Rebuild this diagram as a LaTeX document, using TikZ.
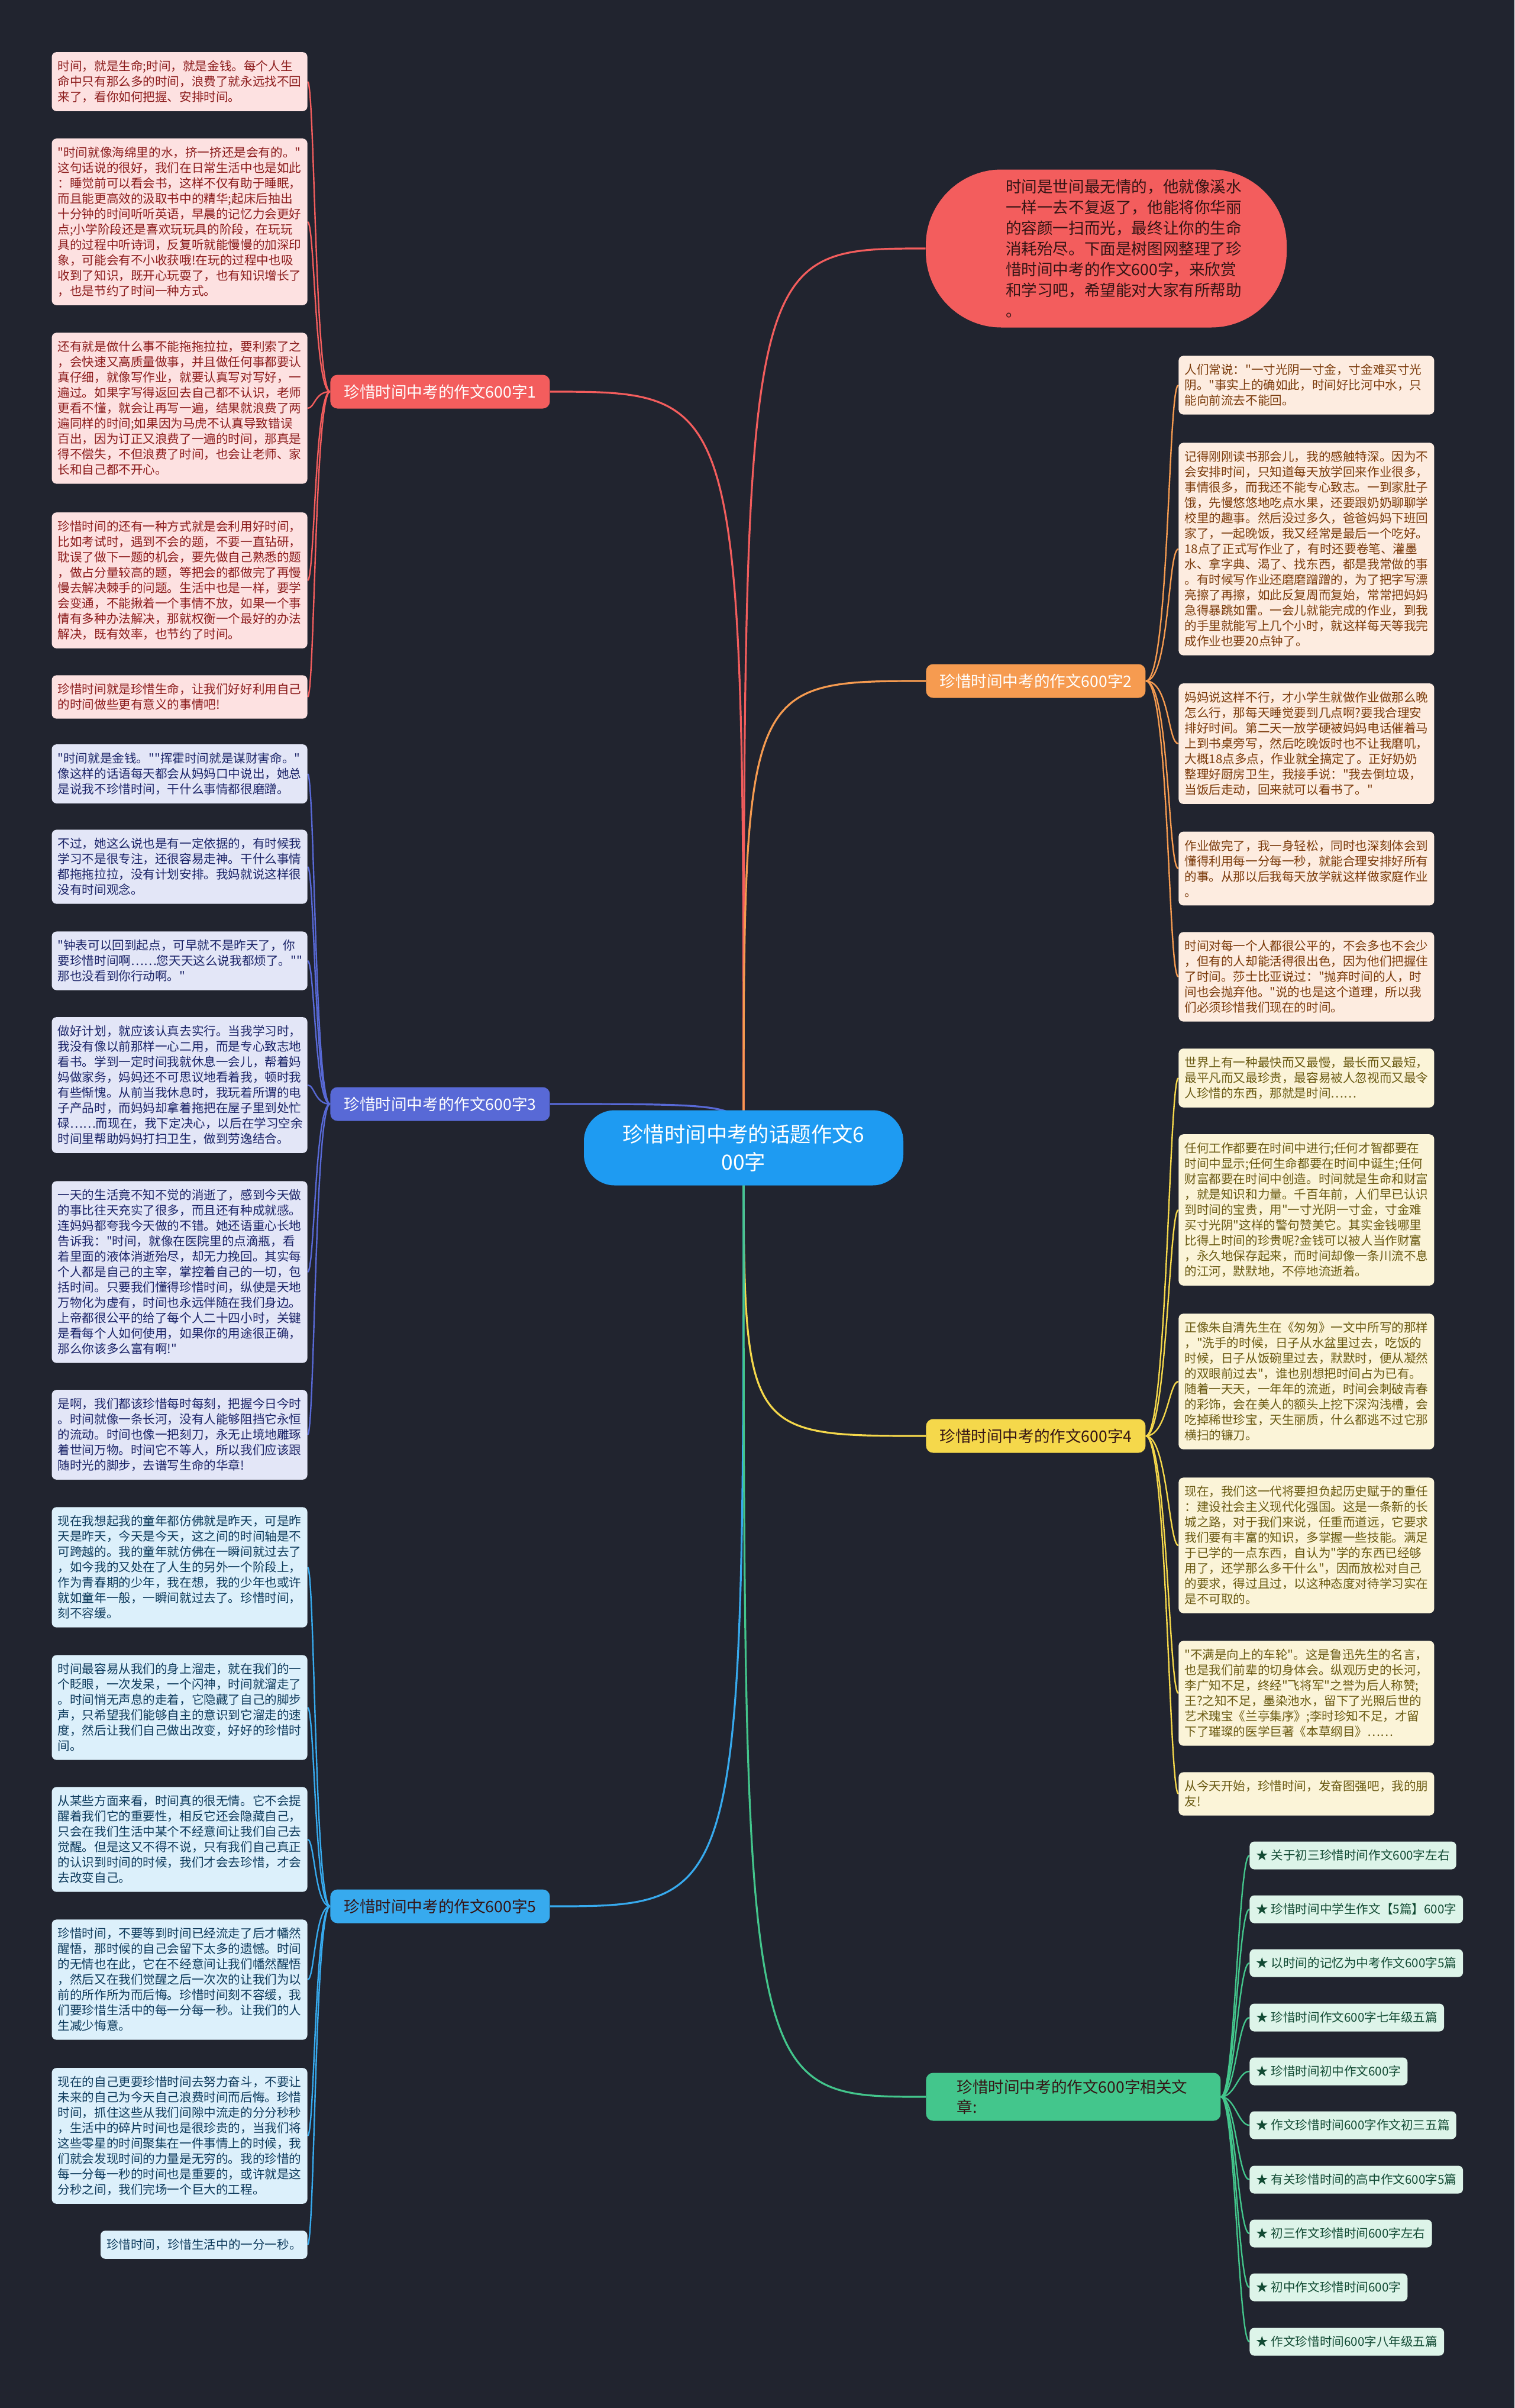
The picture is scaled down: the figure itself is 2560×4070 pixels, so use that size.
\documentclass[tikz,border=0pt]{standalone}
\usepackage{fontspec}
\newfontfamily\zh{Noto Sans CJK SC}
\definecolor{nen}{RGB}{33,36,47}
\definecolor{cBlue}{RGB}{30,155,242}
\definecolor{cRed}{RGB}{243,93,93}
\definecolor{eText}{RGB}{52,20,20}
\definecolor{rFill}{RGB}{253,225,225}
\definecolor{rText}{RGB}{140,28,28}
\definecolor{oLine}{RGB}{246,155,80}
\definecolor{oFill}{RGB}{253,236,224}
\definecolor{oText}{RGB}{123,59,11}
\definecolor{bLine}{RGB}{88,105,214}
\definecolor{bFill}{RGB}{227,230,247}
\definecolor{bText}{RGB}{27,36,104}
\definecolor{yLine}{RGB}{245,216,75}
\definecolor{yFill}{RGB}{251,244,216}
\definecolor{yText}{RGB}{106,90,18}
\definecolor{sLine}{RGB}{55,170,238}
\definecolor{sFill}{RGB}{220,240,251}
\definecolor{sText}{RGB}{13,58,92}
\definecolor{gLine}{RGB}{67,198,140}
\definecolor{gFill}{RGB}{221,244,233}
\definecolor{gText}{RGB}{17,74,51}
\pgfdeclarelayer{nenlop}
\pgfdeclarelayer{duong}
\pgfsetlayers{nenlop,duong,main}
\begin{document}
\begin{tikzpicture}[x=0.5pt,y=-0.5pt,line join=round,line cap=round,
	box/.style={rounded corners=4pt,text width=206pt,align=left,inner xsep=5pt,inner ysep=7pt,font=\zh\fontsize{10.3}{13}\selectfont},
	rbox/.style={box,fill=rFill,text=rText,anchor=east},
	bbox/.style={box,fill=bFill,text=bText,anchor=east},
	sbox/.style={box,fill=sFill,text=sText,anchor=east},
	obox/.style={box,fill=oFill,text=oText,anchor=west},
	ybox/.style={box,fill=yFill,text=yText,anchor=west},
	link/.style={rounded corners=4pt,inner xsep=5.5pt,minimum height=23.5pt,font=\zh\fontsize{10.3}{13}\selectfont,fill=gFill,text=gText,anchor=west},
	lab/.style={rounded corners=6pt,inner xsep=11.5pt,minimum height=28.5pt,font=\zh\fontsize{13.3}{17}\selectfont,anchor=west},
	br/.style={line width=1.6pt},
	lk/.style={line width=1.2pt}]
	\useasboundingbox (0,0) rectangle (2560,4070);
	\begin{pgfonlayer}{nenlop}
		\fill[nen] (0,0) rectangle (2560,4070);
	\end{pgfonlayer}
	%Nút trung tâm
	\node[fill=cBlue,text=white,rounded corners=26pt,minimum width=270pt,minimum height=63.5pt,align=center,font=\zh\fontsize{17.7}{23.5}\selectfont] (c) at (1257,1940) {珍惜时间中考的话题作文6\\00字};
	\node[fill=cRed,text=eText,rounded corners=64pt,minimum width=305pt,minimum height=133.5pt,font=\zh\fontsize{13.3}{17.5}\selectfont] (e) at (1870,420) {\hspace*{30pt}\parbox{200pt}{\raggedright 时间是世间最无情的，他就像溪水\\一样一去不复返了，他能将你华丽\\的容颜一扫而光，最终让你的生命\\消耗殆尽。下面是树图网整理了珍\\惜时间中考的作文600字，来欣赏\\和学习吧，希望能对大家有所帮助\\。}};
	%Các nhánh
	\node[lab,fill=cRed,text=white] (b1) at (558,662) {珍惜时间中考的作文600字1};
	\node[lab,fill=oLine,text=white] (b2) at (1565,1151) {珍惜时间中考的作文600字2};
	\node[lab,fill=bLine,text=white] (b3) at (558,1866) {珍惜时间中考的作文600字3};
	\node[lab,fill=yLine,text=eText] (b4) at (1565,2427) {珍惜时间中考的作文600字4};
	\node[lab,fill=sLine,text=eText] (b5) at (558,3222) {珍惜时间中考的作文600字5};
	\node[lab,fill=gLine,text=eText,text width=197pt,align=left,inner xsep=26pt,inner ysep=5.6pt] (b6) at (1565,3544) {珍惜时间中考的作文600字相关文\\章:};
	%Nhánh 1
	\node[rbox] (l1a) at (520,138) {时间，就是生命;时间，就是金钱。每个人生\\命中只有那么多的时间，浪费了就永远找不回\\来了，看你如何把握、安排时间。};
	\node[rbox] (l1b) at (520,375) {"时间就像海绵里的水，挤一挤还是会有的。"\\这句话说的很好，我们在日常生活中也是如此\\：睡觉前可以看会书，这样不仅有助于睡眠，\\而且能更高效的汲取书中的精华;起床后抽出\\十分钟的时间听听英语，早晨的记忆力会更好\\点;小学阶段还是喜欢玩玩具的阶段，在玩玩\\具的过程中听诗词，反复听就能慢慢的加深印\\象，可能会有不小收获哦!在玩的过程中也吸\\收到了知识，既开心玩耍了，也有知识增长了\\，也是节约了时间一种方式。};
	\node[rbox] (l1c) at (520,690) {还有就是做什么事不能拖拖拉拉，要利索了之\\，会快速又高质量做事，并且做任何事都要认\\真仔细，就像写作业，就要认真写对写好，一\\遍过。如果字写得返回去自己都不认识，老师\\更看不懂，就会让再写一遍，结果就浪费了两\\遍同样的时间;如果因为马虎不认真导致错误\\百出，因为订正又浪费了一遍的时间，那真是\\得不偿失，不但浪费了时间，也会让老师、家\\长和自己都不开心。};
	\node[rbox] (l1d) at (520,981) {珍惜时间的还有一种方式就是会利用好时间，\\比如考试时，遇到不会的题，不要一直钻研，\\耽误了做下一题的机会，要先做自己熟悉的题\\，做占分量较高的题，等把会的都做完了再慢\\慢去解决棘手的问题。生活中也是一样，要学\\会变通，不能揪着一个事情不放，如果一个事\\情有多种办法解决，那就权衡一个最好的办法\\解决，既有效率，也节约了时间。};
	\node[rbox] (l1e) at (520,1178) {珍惜时间就是珍惜生命，让我们好好利用自己\\的时间做些更有意义的事情吧!};
	%Nhánh 3
	\node[bbox] (l3a) at (520,1308) {"时间就是金钱。""挥霍时间就是谋财害命。"\\像这样的话语每天都会从妈妈口中说出，她总\\是说我不珍惜时间，干什么事情都很磨蹭。};
	\node[bbox] (l3b) at (520,1465) {不过，她这么说也是有一定依据的，有时候我\\学习不是很专注，还很容易走神。干什么事情\\都拖拖拉拉，没有计划安排。我妈就说这样很\\没有时间观念。};
	\node[bbox] (l3c) at (520,1624) {"钟表可以回到起点，可早就不是昨天了，你\\要珍惜时间啊……您天天这么说我都烦了。""\\那也没看到你行动啊。"};
	\node[bbox] (l3d) at (520,1834) {做好计划，就应该认真去实行。当我学习时，\\我没有像以前那样一心二用，而是专心致志地\\看书。学到一定时间我就休息一会儿，帮着妈\\妈做家务，妈妈还不可思议地看着我，顿时我\\有些惭愧。从前当我休息时，我玩着所谓的电\\子产品时，而妈妈却拿着拖把在屋子里到处忙\\碌……而现在，我下定决心，以后在学习空余\\时间里帮助妈妈打扫卫生，做到劳逸结合。};
	\node[bbox] (l3e) at (520,2150) {一天的生活竟不知不觉的消逝了，感到今天做\\的事比往天充实了很多，而且还有种成就感。\\连妈妈都夸我今天做的不错。她还语重心长地\\告诉我："时间，就像在医院里的点滴瓶，看\\着里面的液体消逝殆尽，却无力挽回。其实每\\个人都是自己的主宰，掌控着自己的一切，包\\括时间。只要我们懂得珍惜时间，纵使是天地\\万物化为虚有，时间也永远伴随在我们身边。\\上帝都很公平的给了每个人二十四小时，关键\\是看每个人如何使用，如果你的用途很正确，\\那么你该多么富有啊!"};
	\node[bbox] (l3f) at (520,2425) {是啊，我们都该珍惜每时每刻，把握今日今时\\。时间就像一条长河，没有人能够阻挡它永恒\\的流动。时间也像一把刻刀，永无止境地雕琢\\着世间万物。时间它不等人，所以我们应该跟\\随时光的脚步，去谱写生命的华章!};
	%Nhánh 5
	\node[sbox] (l5a) at (520,2649) {现在我想起我的童年都仿佛就是昨天，可是昨\\天是昨天，今天是今天，这之间的时间轴是不\\可跨越的。我的童年就仿佛在一瞬间就过去了\\，如今我的又处在了人生的另外一个阶段上，\\作为青春期的少年，我在想，我的少年也或许\\就如童年一般，一瞬间就过去了。珍惜时间，\\刻不容缓。};
	\node[sbox] (l5b) at (520,2886) {时间最容易从我们的身上溜走，就在我们的一\\个眨眼，一次发呆，一个闪神，时间就溜走了\\。时间悄无声息的走着，它隐藏了自己的脚步\\声，只希望我们能够自主的意识到它溜走的速\\度，然后让我们自己做出改变，好好的珍惜时\\间。};
	\node[sbox] (l5c) at (520,3109) {从某些方面来看，时间真的很无情。它不会提\\醒着我们它的重要性，相反它还会隐藏自己，\\只会在我们生活中某个不经意间让我们自己去\\觉醒。但是这又不得不说，只有我们自己真正\\的认识到时间的时候，我们才会去珍惜，才会\\去改变自己。};
	\node[sbox] (l5d) at (520,3346) {珍惜时间，不要等到时间已经流走了后才幡然\\醒悟，那时候的自己会留下太多的遗憾。时间\\的无情也在此，它在不经意间让我们幡然醒悟\\，然后又在我们觉醒之后一次次的让我们为以\\前的所作所为而后悔。珍惜时间刻不容缓，我\\们要珍惜生活中的每一分每一秒。让我们的人\\生减少悔意。};
	\node[sbox] (l5e) at (520,3610) {现在的自己更要珍惜时间去努力奋斗，不要让\\未来的自己为今天自己浪费时间而后悔。珍惜\\时间，抓住这些从我们间隙中流走的分分秒秒\\，生活中的碎片时间也是很珍贵的，当我们将\\这些零星的时间聚集在一件事情上的时候，我\\们就会发现时间的力量是无穷的。我的珍惜的\\每一分每一秒的时间也是重要的，或许就是这\\分秒之间，我们完场一个巨大的工程。};
	\node[sbox,text width=] (l5f) at (520,3794) {珍惜时间，珍惜生活中的一分一秒。};
	%Nhánh 2
	\node[obox] (r2a) at (1992,651) {人们常说："一寸光阴一寸金，寸金难买寸光\\阴。"事实上的确如此，时间好比河中水，只\\能向前流去不能回。};
	\node[obox] (r2b) at (1992,928) {记得刚刚读书那会儿，我的感触特深。因为不\\会安排时间，只知道每天放学回来作业很多，\\事情很多，而我还不能专心致志。一到家肚子\\饿，先慢悠悠地吃点水果，还要跟奶奶聊聊学\\校里的趣事。然后没过多久，爸爸妈妈下班回\\家了，一起晚饭，我又经常是最后一个吃好。\\18点了正式写作业了，有时还要卷笔、灌墨\\水、拿字典、渴了、找东西，都是我常做的事\\。有时候写作业还磨磨蹭蹭的，为了把字写漂\\亮擦了再擦，如此反复周而复始，常常把妈妈\\急得暴跳如雷。一会儿就能完成的作业，到我\\的手里就能写上几个小时，就这样每天等我完\\成作业也要20点钟了。};
	\node[obox] (r2c) at (1992,1257) {妈妈说这样不行，才小学生就做作业做那么晚\\怎么行，那每天睡觉要到几点啊?要我合理安\\排好时间。第二天一放学硬被妈妈电话催着马\\上到书桌旁写，然后吃晚饭时也不让我磨叽，\\大概18点多点，作业就全搞定了。正好奶奶\\整理好厨房卫生，我接手说："我去倒垃圾，\\当饭后走动，回来就可以看书了。"};
	\node[obox] (r2d) at (1992,1468) {作业做完了，我一身轻松，同时也深刻体会到\\懂得利用每一分每一秒，就能合理安排好所有\\的事。从那以后我每天放学就这样做家庭作业\\。};
	\node[obox] (r2e) at (1992,1651) {时间对每一个人都很公平的，不会多也不会少\\，但有的人却能活得很出色，因为他们把握住\\了时间。莎士比亚说过："抛弃时间的人，时\\间也会抛弃他。"说的也是这个道理，所以我\\们必须珍惜我们现在的时间。};
	%Nhánh 4
	\node[ybox] (r4a) at (1992,1822) {世界上有一种最快而又最慢，最长而又最短，\\最平凡而又最珍贵，最容易被人忽视而又最令\\人珍惜的东西，那就是时间……};
	\node[ybox] (r4b) at (1992,2045) {任何工作都要在时间中进行;任何才智都要在\\时间中显示;任何生命都要在时间中诞生;任何\\财富都要在时间中创造。时间就是生命和财富\\，就是知识和力量。千百年前，人们早已认识\\到时间的宝贵，用"一寸光阴一寸金，寸金难\\买寸光阴"这样的警句赞美它。其实金钱哪里\\比得上时间的珍贵呢?金钱可以被人当作财富\\，永久地保存起来，而时间却像一条川流不息\\的江河，默默地，不停地流逝着。};
	\node[ybox] (r4c) at (1992,2335) {正像朱自清先生在《匆匆》一文中所写的那样\\，"洗手的时候，日子从水盆里过去，吃饭的\\时候，日子从饭碗里过去，默默时，便从凝然\\的双眼前过去"，谁也别想把时间占为已有。\\随着一天天，一年年的流逝，时间会刺破青春\\的彩饰，会在美人的额头上挖下深沟浅槽，会\\吃掉稀世珍宝，天生丽质，什么都逃不过它那\\横扫的镰刀。};
	\node[ybox] (r4d) at (1992,2612) {现在，我们这一代将要担负起历史赋于的重任\\：建设社会主义现代化强国。这是一条新的长\\城之路，对于我们来说，任重而道远，它要求\\我们要有丰富的知识，多掌握一些技能。满足\\于已学的一点东西，自认为"学的东西已经够\\用了，还学那么多干什么"，因而放松对自己\\的要求，得过且过，以这种态度对待学习实在\\是不可取的。};
	\node[ybox] (r4e) at (1992,2862) {"不满是向上的车轮"。这是鲁迅先生的名言，\\也是我们前辈的切身体会。纵观历史的长河，\\李广知不足，终经"飞将军"之誉为后人称赞;\\王?之知不足，墨染池水，留下了光照后世的\\艺术瑰宝《兰亭集序》;李时珍知不足，才留\\下了璀璨的医学巨著《本草纲目》……};
	\node[ybox] (r4f) at (1992,3032) {从今天开始，珍惜时间，发奋图强吧，我的朋\\友!};
	%Bài viết liên quan
	\node[link] (g1) at (2112,3136) {★ 关于初三珍惜时间作文600字左右};
	\node[link] (g2) at (2112,3227) {★ 珍惜时间中学生作文【5篇】600字};
	\node[link] (g3) at (2112,3318) {★ 以时间的记忆为中考作文600字5篇};
	\node[link] (g4) at (2112,3410) {★ 珍惜时间作文600字七年级五篇};
	\node[link] (g5) at (2112,3501) {★ 珍惜时间初中作文600字};
	\node[link] (g6) at (2112,3592) {★ 作文珍惜时间600字作文初三五篇};
	\node[link] (g7) at (2112,3684) {★ 有关珍惜时间的高中作文600字5篇};
	\node[link] (g8) at (2112,3775) {★ 初三作文珍惜时间600字左右};
	\node[link] (g9) at (2112,3866) {★ 初中作文珍惜时间600字};
	\node[link] (g10) at (2112,3958) {★ 作文珍惜时间600字八年级五篇};
	\begin{pgfonlayer}{duong}
		%Đường từ tâm
		\draw[br,cRed] (c.center) .. controls (c.center |- e.west) and (c.center |- e.west) .. (e.west);
		\draw[br,cRed] (c.center) .. controls (c.center |- b1.east) and (c.center |- b1.east) .. (b1.east);
		\draw[br,oLine] (c.center) .. controls (c.center |- b2.west) and (c.center |- b2.west) .. (b2.west);
		\draw[br,bLine] (c.center) .. controls (c.center |- b3.east) and (c.center |- b3.east) .. (b3.east);
		\draw[br,yLine] (c.center) .. controls (c.center |- b4.west) and (c.center |- b4.west) .. (b4.west);
		\draw[br,sLine] (c.center) .. controls (c.center |- b5.east) and (c.center |- b5.east) .. (b5.east);
		\draw[br,gLine] (c.center) .. controls (c.center |- b6.west) and (c.center |- b6.west) .. (b6.west);
		%Nhánh 1
		\draw[lk,cRed] (b1.west) .. controls +(-26,0) and +(12,0) .. (l1a.east);
		\draw[lk,cRed] (b1.west) .. controls +(-26,0) and +(12,0) .. (l1b.east);
		\draw[lk,cRed] (b1.west) .. controls +(-26,0) and +(12,0) .. (l1c.east);
		\draw[lk,cRed] (b1.west) .. controls +(-26,0) and +(12,0) .. (l1d.east);
		\draw[lk,cRed] (b1.west) .. controls +(-26,0) and +(12,0) .. (l1e.east);
		%Nhánh 3
		\draw[lk,bLine] (b3.west) .. controls +(-26,0) and +(12,0) .. (l3a.east);
		\draw[lk,bLine] (b3.west) .. controls +(-26,0) and +(12,0) .. (l3b.east);
		\draw[lk,bLine] (b3.west) .. controls +(-26,0) and +(12,0) .. (l3c.east);
		\draw[lk,bLine] (b3.west) .. controls +(-26,0) and +(12,0) .. (l3d.east);
		\draw[lk,bLine] (b3.west) .. controls +(-26,0) and +(12,0) .. (l3e.east);
		\draw[lk,bLine] (b3.west) .. controls +(-26,0) and +(12,0) .. (l3f.east);
		%Nhánh 5
		\draw[lk,sLine] (b5.west) .. controls +(-26,0) and +(12,0) .. (l5a.east);
		\draw[lk,sLine] (b5.west) .. controls +(-26,0) and +(12,0) .. (l5b.east);
		\draw[lk,sLine] (b5.west) .. controls +(-26,0) and +(12,0) .. (l5c.east);
		\draw[lk,sLine] (b5.west) .. controls +(-26,0) and +(12,0) .. (l5d.east);
		\draw[lk,sLine] (b5.west) .. controls +(-26,0) and +(12,0) .. (l5e.east);
		\draw[lk,sLine] (b5.west) .. controls +(-26,0) and +(12,0) .. (l5f.east);
		%Nhánh 2
		\draw[lk,oLine] (b2.east) .. controls +(40,0) and +(-18,0) .. (r2a.west);
		\draw[lk,oLine] (b2.east) .. controls +(40,0) and +(-18,0) .. (r2b.west);
		\draw[lk,oLine] (b2.east) .. controls +(40,0) and +(-18,0) .. (r2c.west);
		\draw[lk,oLine] (b2.east) .. controls +(40,0) and +(-18,0) .. (r2d.west);
		\draw[lk,oLine] (b2.east) .. controls +(40,0) and +(-18,0) .. (r2e.west);
		%Nhánh 4
		\draw[lk,yLine] (b4.east) .. controls +(36,0) and +(-16,0) .. (r4a.west);
		\draw[lk,yLine] (b4.east) .. controls +(36,0) and +(-16,0) .. (r4b.west);
		\draw[lk,yLine] (b4.east) .. controls +(36,0) and +(-16,0) .. (r4c.west);
		\draw[lk,yLine] (b4.east) .. controls +(36,0) and +(-16,0) .. (r4d.west);
		\draw[lk,yLine] (b4.east) .. controls +(36,0) and +(-16,0) .. (r4e.west);
		\draw[lk,yLine] (b4.east) .. controls +(36,0) and +(-16,0) .. (r4f.west);
		%Liên quan
		\draw[lk,gLine] (b6.east) .. controls +(24,0) and +(-19,0) .. (g1.west);
		\draw[lk,gLine] (b6.east) .. controls +(24,0) and +(-19,0) .. (g2.west);
		\draw[lk,gLine] (b6.east) .. controls +(24,0) and +(-19,0) .. (g3.west);
		\draw[lk,gLine] (b6.east) .. controls +(24,0) and +(-19,0) .. (g4.west);
		\draw[lk,gLine] (b6.east) .. controls +(24,0) and +(-19,0) .. (g5.west);
		\draw[lk,gLine] (b6.east) .. controls +(24,0) and +(-19,0) .. (g6.west);
		\draw[lk,gLine] (b6.east) .. controls +(24,0) and +(-19,0) .. (g7.west);
		\draw[lk,gLine] (b6.east) .. controls +(24,0) and +(-19,0) .. (g8.west);
		\draw[lk,gLine] (b6.east) .. controls +(24,0) and +(-19,0) .. (g9.west);
		\draw[lk,gLine] (b6.east) .. controls +(24,0) and +(-19,0) .. (g10.west);
	\end{pgfonlayer}
\end{tikzpicture}
\end{document}
